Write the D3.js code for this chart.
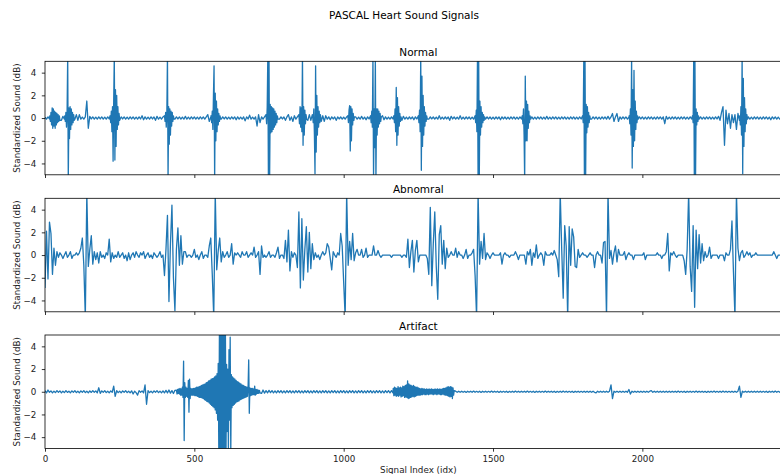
<!DOCTYPE html>
<html><head><meta charset="utf-8">
<script src="https://cdn.jsdelivr.net/npm/d3@7"></script>
<style>body{margin:0;background:#fff;} svg{display:block;} text{font-family:"DejaVu Sans",sans-serif;}</style>
</head><body><svg id="chart" width="780" height="474"></svg>
<script>
// Signal samples.
// Coarse arrays: one value every `sampleStep` indices.
// Burst arrays: [startIdx, values every `burstStep` indices] for the dense parts.
const sampleStep = 5;
const burstStep = 2;

const normalValues = [
/*0*/ 0.08,-0.1,0.1,-0.08,0,0,0,0,0,0,0,-0.2,0.15,-0.1,0,0,0,0,0,0,
/*20*/ 0,0.3,-0.2,0.3,-0.1,0.08,-0.1,0.1,1.5,-0.9,0.15,-0.08,0.1,-0.1,0.08,-0.1,0.1,-0.08,0.1,-0.1,
/*40*/ 0.08,-0.1,0.1,-0.08,0,0,0,0,0,0,0,0.1,-0.08,0.1,-0.1,0.08,-0.1,0.1,-0.08,0.1,
/*60*/ -0.1,0.08,-0.1,0.1,-0.08,0.2,-0.15,0.1,-0.1,0.08,-0.1,0.1,-0.08,0.1,-0.2,0.15,-0.1,0.08,-0.1,0.1,
/*80*/ 0,0,0,0,0,0,0,-0.1,0.1,-0.08,0.1,-0.1,0.08,-0.1,0.15,-0.1,0.08,-0.1,0.1,-0.08,
/*100*/ 0.1,-0.1,0.08,-0.1,0.1,-0.08,0.1,-0.1,0.1,0.3,-0.3,0.1,0,0,0,0,0,0,-0.1,0.1,
/*120*/ -0.08,0.1,-0.1,0.08,-0.1,0.1,-0.08,0.1,-0.15,0.1,-0.1,0.08,-0.1,0.1,-0.25,0.1,-0.08,0.25,-0.1,0.08,
/*140*/ -0.1,0.1,-0.7,0.3,-0.4,0.1,-0.1,0.1,0,0,0,0,0,0,0,0,0,-0.1,0.1,-0.08,
/*160*/ 0.1,-0.2,0.1,0.3,-0.2,0.1,-0.3,0.2,-0.1,0.1,0,0,0,0,0,0,-0.2,0.3,-0.2,0.3,
/*180*/ 0,0,0,0,0,-0.3,0.2,-0.3,0.2,-0.1,0.1,-0.15,0.1,-0.08,0.1,-0.2,0.1,-0.08,0.1,-0.1,
/*200*/ 0.08,-0.1,0.1,0,0,0,0,0,0.1,-0.1,0.08,-0.1,0.15,-0.1,0.08,-0.15,0.1,-0.08,0,0,
/*220*/ 0,0,0,0,0,0,0.2,-0.15,0.1,-0.1,0.08,-0.1,0.1,-0.08,0,0,0,0,0,-0.2,
/*240*/ 0.15,-0.1,0.08,-0.1,0.1,-0.08,0.1,-0.15,0.1,-0.08,0,0,0,0,0,0,0,-0.1,0.1,-0.08,
/*260*/ 0.1,-0.1,0.08,-0.1,0.2,-0.1,0.08,-0.1,0.1,-0.08,0.1,-0.2,0.15,-0.08,0.1,-0.1,0.08,-0.1,0.2,-0.1,
/*280*/ 0.08,-0.1,0.1,-0.08,0.1,-0.1,0.08,-0.1,0,0,0,0,0,0,0,-0.1,0.1,-0.08,0.1,-0.1,
/*300*/ 0.08,-0.1,0.1,-0.08,0.1,-0.15,0.1,-0.08,0.1,-0.1,0.08,-0.1,0.1,-0.08,0.1,-0.1,0.08,-0.1,0.1,-0.08,
/*320*/ 0,0,0,0,0,0,0.1,-0.1,0.08,-0.1,0.1,-0.08,0.1,-0.1,0.08,-0.1,0.15,-0.1,0.08,-0.1,
/*340*/ 0.1,-0.08,0.1,-0.1,0.08,-0.1,0.1,-0.08,0.1,-0.1,0.08,-0.1,0.1,-0.08,0.1,-0.1,0.08,-0.1,0.1,-0.08,
/*360*/ 0,0,0,0,0,0,-0.1,0.1,-0.08,0.1,-0.1,0.08,-0.1,0.1,-0.08,0.1,-0.1,0.15,-0.1,0.1,
/*380*/ 0.4,-0.3,0.1,0.4,-0.3,0.1,-0.1,0.1,-0.08,0.1,-0.1,0.08,0,0,0,0,0,-0.1,0.1,-0.08,
/*400*/ 0.1,-0.1,0.08,-0.1,0.1,-0.08,0.1,-0.1,0.08,-0.1,0.1,-0.08,0.1,-0.1,0.1,-0.5,0.15,-0.1,0.08,-0.1,
/*420*/ 0.1,-0.08,0.1,-0.1,0.08,-0.1,0.1,-0.08,0.1,-0.1,0.08,-0.1,0.1,-0.08,0,0,0,0,0,0.1,
/*440*/ -0.1,0.08,-0.1,0.1,-0.08,0.1,-0.1,0.08,-0.1,0.1,-0.08,0.15,-0.2,0.5,1.0,-2.4,0.7,-0.5,0.4,-0.9,
/*460*/ 0.3,-0.4,0.3,-1.0,0.4,-0.2,0,0,0,0,0,0.1,-0.1,0.08,-0.1,0.1,-0.08,0.1,-0.1,0.08,
/*480*/ -0.1,0.1,-0.08,0.1,-0.1,0.08,-0.15,0.1,-0.08,0.1,-0.1,0.08,-0.1,0.1,-0.08,0.1,-0.1,0.08,-0.1,0.1
];
const normalBursts = [
  [16, [0.2,-0.3,0.5,-0.6,0.9,-0.9,0.8,-0.7,0.6,-0.9,0.5,-0.6,0.4,-0.4,0.3,-0.3,0.2,-0.2]],
  [66, [0.2,-0.3,0.5,-0.8,0.6,5.5,-5.5,0.9,-1.8,1.0,-1.0,0.8,-0.6,0.5,-0.4,0.3,-0.2,-0.1]],
  [218, [0.2,-0.4,0.6,-1.2,1.0,-3.8,1.5,5.5,-3.7,2.5,-2.5,2.0,-1.0,1.0,-0.6,0.4,-0.2]],
  [400, [0.2,-0.3,0.5,-0.8,0.6,5.5,-5.5,1.0,-2.3,0.8,-1.5,0.6,-0.7,0.5,-0.3,0.2,-0.1]],
  [556, [0.2,-0.4,0.6,-1.0,2.0,4.6,-5.5,2.2,-2.0,1.5,-1.2,0.8,-0.6,0.4,-0.3,0.2,-0.1]],
  [740, [0.3,-0.5,1.0,5.5,-5.5,5.5,-5.5,1.2,-1.3,1.0,-1.2,0.9,-1.0,0.8,-0.8,0.6,-0.6,0.4,-0.4,0.2,-0.1]],
  [850, [0.3,-0.5,1.0,-0.8,0.9,-1.2,5.5,-2.4,1.0,-1.5,0.7,-0.5,0.3,-0.1]],
  [896, [0.2,-0.4,0.8,-1.5,-4.9,4.6,-3.0,2.0,-1.5,1.0,-0.8,0.6,-0.4,0.3,-0.1]],
  [1014, [0.2,-0.4,0.7,1.1,-2.9,1.0,-2.0,0.8,-0.6,0.4,-0.2,0.1]],
  [1090, [0.2,-0.4,0.6,-0.8,5.5,-5.5,0.8,-2.6,5.5,-5.5,0.8,-1.5,0.8,-0.8,0.6,-0.5,0.4,-0.3,0.1]],
  [1168, [0.2,-0.4,0.8,-1.2,2.7,-2.4,1.8,-1.5,1.0,-0.7,0.4,-0.3,0.1]],
  [1250, [0.2,-0.4,0.7,-1.2,5.5,-4.6,3.7,-2.5,2.0,-1.5,1.0,-0.7,0.5,-0.3,0.2,-0.1]],
  [1440, [0.2,-0.4,0.7,-1.2,5.5,-5.5,5.5,-5.5,1.5,-1.5,1.0,-0.8,0.5,-0.4,0.3,-0.2,0.1]],
  [1598, [0.2,-0.5,0.8,-1.5,-5.5,3.7,-2.0,1.5,-2.0,1.2,-0.9,0.6,-0.4,0.2,-0.1]],
  [1800, [0.2,-0.4,5.5,-5.5,5.5,-5.5,1.2,-1.3,1.0,-0.8,0.5,-0.4,0.2,-0.1]],
  [1956, [0.2,-0.5,0.8,-1.5,5.5,-4.4,2.5,-2.5,4.2,-2.0,1.5,-1.0,0.6,-0.4,0.2,-0.1]],
  [2168, [0.2,-0.4,5.5,-5.5,5.5,-5.5,0.8,-0.6,0.5,-0.3,0.2,-0.1]],
  [2326, [0.2,-0.6,1.0,-1.5,5.5,-4.9,3.5,-2.5,1.8,-1.2,0.8,-0.5,0.3,-0.1]]
];

const abnormalValues = [
/*0*/ -2.9,2.1,-2.1,2.9,1.9,-1.7,0.6,-0.9,0.3,-0.2,0.2,0,-0.3,0,0.3,-0.2,0,0.3,-0.3,0,
/*20*/ 0,0.2,0,0.2,0.6,1.5,-0.9,-5.5,5.5,-1.0,0.5,1.7,-0.8,0.3,-0.4,0.2,-0.7,0.3,-0.2,0,
/*40*/ -0.3,0.2,0,1.4,-0.6,0.2,-0.3,0,-0.2,0.3,-0.2,0,0.2,-0.3,0,-0.5,0.2,-0.4,0,0.2,
/*60*/ -0.2,0.3,0,-0.2,0.2,0,0.3,-0.3,0,0.2,-0.2,0,-0.3,0.2,0,-0.2,0,0.3,-0.2,0,
/*80*/ -1.8,0.5,3.5,-4.1,1.0,4.4,-2.0,-4.9,0.5,2.4,-0.9,1.7,-0.8,0.3,0.3,-0.2,0,0,-0.2,0,
/*100*/ 0.5,-0.2,0,-0.4,0,0.3,-0.3,0,0,-0.2,0.8,1.5,-1.7,-5.5,5.5,-1.3,0.4,1.5,-0.6,0.3,
/*120*/ -0.2,0,0.3,-0.2,0,1.0,-0.8,0.2,0,0.2,0,-0.2,0.3,0,0,0.3,-0.2,0,0.2,0,
/*140*/ 0.7,-0.2,0,0.3,-1.7,0.8,-0.2,0,-0.2,0,0.3,-0.2,0,0,-0.2,0.2,0.7,-0.3,0,0,
/*160*/ -0.3,1.3,-0.6,2.2,-1.4,0.3,-0.2,0.2,0,-1.1,3.8,-2.9,3.2,-2.2,0.5,2.5,-1.5,2.0,-1.2,1.0,
/*180*/ -0.4,0.2,-0.2,0,-0.4,0,0.3,0,0.2,1.0,0.7,-0.3,-1.3,0.3,0,-0.2,0.2,0,1.9,0.8,
/*200*/ -2.4,-5.5,5.5,-0.9,1.2,-0.4,1.9,-0.5,0.2,0.5,0,0,0.5,-0.2,0,0.6,-0.2,0,0,0,
/*220*/ 0.8,0,0,0.4,0,-0.2,0,0,0,0,0,0,-0.2,0,0,0,0,0,0,-0.2,
/*240*/ 0,0,-0.2,1.4,-1.1,0.3,1.3,-1.5,0.4,1.3,-0.6,0,0,0,0,0,-0.3,-1.7,4.2,-2.7,
/*260*/ 1.0,3.8,-1.0,-3.9,1.8,2.6,-0.8,1.3,-1.2,0.6,-0.2,0,0.3,0,0,0.6,-0.2,0.3,0,0,
/*280*/ -0.3,0,0.5,-0.3,0,0,0.2,0.5,-1.8,-5.5,5.5,-0.8,1.2,-0.3,1.9,-0.4,0.2,0,-0.3,0,
/*300*/ 0.2,0,0,0,0,0.2,-0.8,0,0.2,0,0,-0.2,0,0,0,0.3,0,-0.4,0,0,
/*320*/ 0,0,-0.8,0.3,0,0.5,-0.9,0.2,-0.2,0.9,-0.3,0,0.2,0,-0.9,0.3,0,0,0,0.2,
/*340*/ 0,0.4,0,-0.4,-1.9,5.5,0.5,-3.8,2.6,0.8,-5.5,2.5,-0.9,2.3,1.6,-1.0,-1.1,0.5,-0.2,0,
/*360*/ 0.2,0,0,-0.2,0,0.2,0,0,-1.1,0,0.3,0,0,-0.7,1.1,1.2,-5.5,5.5,-0.3,0.4,
/*380*/ -0.8,0.2,0.8,-0.6,0.5,0,0,0,0.3,-0.4,0,0.2,0,0,-0.4,0,0,0,0,0,
/*400*/ 0,0.2,-0.4,0,0,0,0,0,0,0,0.2,0,0,-0.3,0,0,0.3,1.9,-1.4,0.2,
/*420*/ 0,0.3,0,-0.2,0,0,0,0,-0.5,-1.7,0.5,5.5,-1.0,-3.2,2.6,-4.6,2.2,-1.2,1.8,-0.7,
/*440*/ 1.0,-0.5,0.3,-0.2,0,0.7,-0.3,0,0,0,0,-0.3,0,0,0,-0.5,0.2,0,0,0.5,
/*460*/ 3.0,-1.5,-5.5,5.5,0.6,-0.5,0.2,0.4,-0.2,0,0.3,0,0.2,-0.2,0,0,0.2,0,0,0,
/*480*/ 0,0,0,0,0,0,0,0,0.3,0,-0.3,0,0,0,0,0,0,0,0,0
];
const abnormalBursts = [];

const artifactValues = [
/*0*/ 0.1,-0.1,0.15,-0.05,0.08,-0.1,0.05,-0.08,0.1,-0.05,0.08,-0.1,0.05,-0.08,0.1,-0.06,0.05,-0.1,0.08,-0.05,
/*20*/ 0.1,-0.08,0.05,-0.1,0.08,-0.05,0.1,-0.08,0.05,-0.1,0.08,-0.06,0.1,-0.05,0.08,-0.1,0.35,-0.15,0.08,-0.05,
/*40*/ 0.1,-0.08,0.05,-0.1,0.08,-0.05,0.5,-0.4,0.1,-0.08,0.05,-0.1,0.08,-0.05,0.1,-0.08,0.05,-0.1,0.08,-0.2,
/*60*/ 0.05,-0.08,-0.3,0.1,-0.05,0.08,-0.1,0.6,-1.1,0.1,-0.08,0.05,-0.1,0.08,-0.05,0.1,-0.08,0.05,-0.1,0.08,
/*80*/ -0.1,0.12,-0.1,0.15,-0.12,0.1,-0.15,0.12,0,0,0,0,0,0,0,0,0,0,0,0,
/*100*/ 0,0,0,0,0,0,0,0,0,0,0,0,0,0,0,0,0,0,0,0,
/*120*/ 0,0,0,0,0,0,0,0,0,0,0,0,0,0,0,0,0,0,0,0,
/*140*/ 0,0,0,0,0,-0.15,0.15,-0.12,0.1,-0.1,0.12,-0.08,0.1,-0.1,0.08,-0.1,0.1,-0.08,0.1,-0.1,
/*160*/ 0.08,-0.1,0.1,-0.08,0.1,-0.1,0.08,-0.1,0.1,-0.08,0.1,-0.1,0.08,-0.1,0.1,-0.08,0.1,-0.1,0.08,-0.1,
/*180*/ 0.1,-0.08,0.1,-0.1,0.08,-0.1,0.1,-0.08,0.1,-0.1,0.08,-0.1,0.1,-0.08,0.1,-0.1,0.08,-0.1,0.1,-0.08,
/*200*/ 0.1,-0.1,0.08,-0.1,0.1,-0.08,0.1,-0.1,0.08,-0.1,0.1,-0.08,0.1,-0.1,0.08,-0.1,0.1,-0.08,0.1,-0.1,
/*220*/ 0.08,-0.1,0.1,-0.08,0.1,-0.1,0.08,-0.1,0.1,-0.08,0.1,-0.1,0.1,-0.1,0,0,0,0,0,0,
/*240*/ 0,0,0,0,0,0,0,0,0,0,0,0,0,0,0,0,0,0,0,0,
/*260*/ 0,0,0,0,0,0,0,0,0,0,0,0,0,0,0,0.05,-0.05,0.05,-0.05,0.05,
/*280*/ -0.05,0.04,-0.06,0.05,-0.04,0.05,-0.05,0.06,-0.05,0.04,-0.05,0.05,-0.06,0.05,-0.04,0.05,-0.05,0.04,-0.05,0.06,
/*300*/ -0.05,0.05,-0.04,0.05,-0.06,0.05,-0.05,0.04,-0.05,0.05,-0.06,0.04,-0.05,0.05,-0.05,0.06,-0.04,0.05,-0.05,0.05,
/*320*/ -0.04,0.05,-0.05,0.06,-0.05,0.04,-0.05,0.05,-0.06,0.05,-0.04,0.05,-0.05,0.04,-0.05,0.06,-0.05,0.05,-0.04,0.05,
/*340*/ -0.05,0.05,-0.06,0.04,-0.05,0.05,-0.05,0.06,-0.04,0.05,-0.05,0.04,-0.05,0.05,-0.06,0.05,-0.04,0.05,-0.05,0.04,
/*360*/ -0.05,0.05,-0.05,0.05,-0.05,0.05,-0.05,0.05,-0.05,-0.1,0.05,-0.05,0.05,-0.05,0.05,-0.05,0.05,-0.05,0.05,0.6,
/*380*/ -0.6,0.05,-0.05,0.05,-0.05,0.05,-0.05,0.05,-0.05,0.05,-0.05,0.2,-0.2,0.05,-0.05,0.05,-0.05,0.05,-0.05,0.05,
/*400*/ -0.05,0.05,-0.05,0.05,-0.05,0.05,0.1,-0.05,0.05,-0.05,0.05,-0.05,0.05,-0.05,0.05,-0.05,0.05,-0.05,0.05,-0.05,
/*420*/ 0.05,-0.04,0.05,-0.05,0.06,-0.05,0.04,-0.05,0.05,-0.06,0.05,-0.04,0.05,-0.05,0.04,-0.05,0.06,-0.05,0.05,-0.04,
/*440*/ 0.05,-0.05,0.04,-0.06,0.05,-0.05,0.05,-0.04,0.06,-0.05,0.04,-0.05,0.05,-0.05,0.06,-0.04,0.05,-0.05,0.04,-0.05,
/*460*/ 0.05,-0.05,0.05,-0.05,0.05,0.5,-0.5,0.05,-0.05,0.05,-0.05,0.05,-0.05,0.05,-0.05,0.05,-0.05,0.05,-0.05,0.05,
/*480*/ -0.05,0.04,-0.05,0.05,-0.06,0.05,-0.04,0.05,-0.05,0.06,-0.05,0.04,-0.05,0.05,-0.05,0.04,-0.06,0.05,-0.05,0.05
];
const artifactBursts = [
  [440, [
    0.15,-0.2,0.2,-0.15,0.25,-0.2,0.3,-0.3,0.25,-0.3,
    0.4,-0.5,2.7,-4.3,0.8,-0.5,0.4,-0.4,0.3,-0.5,
    1.0,-1.8,1.1,-0.6,0.3,-0.3,0.25,-0.3,0.3,-0.3,
    0.3,-0.35,0.35,-0.35,0.4,-0.4,0.4,-0.45,0.45,-0.5,
    0.5,-0.5,0.55,-0.55,0.6,-0.6,0.65,-0.7,0.7,-0.75,
    0.8,-0.85,0.85,-0.9,0.95,-1.0,1.0,-1.1,1.1,-1.2,
    1.15,-1.3,1.2,-1.4,1.3,-1.6,1.4,-1.9,1.6,-2.5,
    2.5,-5.5,5.5,-5.5,5.5,-5.5,5.5,-5.5,5.5,-5.5,
    5.5,-5.5,5.5,-5.5,2.4,-3.5,2.0,-5.5,3.7,-2.5,
    4.8,-5.5,1.5,-1.4,1.3,-1.2,1.2,-1.1,1.1,-1.0,
    1.0,-0.9,0.9,-0.85,0.85,-0.8,0.75,-0.7,0.7,-0.65,
    0.6,-0.6,0.55,-0.55,0.5,-0.5,0.45,-0.45,0.4,-0.4,
    0.4,2.8,-1.9,0.35,-0.35,0.3,-0.3,0.3,-0.25,0.25,
    -0.25,0.5,-0.3,0.2,-0.2,0.2,-0.15,0.15,-0.15,0.12,
    -0.1]],
  [1166, [
    0.3,-0.35,0.4,-0.3,0.35,-0.4,0.3,-0.35,0.45,-0.4,
    0.35,-0.3,0.4,-0.45,0.35,-0.4,0.5,-0.35,0.45,-0.5,
    0.55,-0.45,0.6,-0.5,0.95,-0.6,0.7,-0.55,0.6,-0.5,
    0.55,-0.45,0.5,-0.4,0.55,-0.45,0.45,-0.4,0.4,-0.35,
    0.4,-0.3,0.35,-0.3,0.3,-0.3,0.25,-0.25,0.3,-0.25,
    0.25,-0.2,0.25,-0.25,0.2,-0.25,0.25,-0.2,0.2,-0.25,
    0.25,-0.2,0.2,-0.2,0.25,-0.2,0.2,-0.25,0.2,-0.2,
    0.25,-0.2,0.2,-0.25,0.25,-0.2,0.2,-0.2,0.25,-0.25,
    0.2,-0.25,0.25,-0.2,0.3,-0.25,0.3,-0.3,0.35,-0.3,
    0.4,-0.35,0.45,-0.4,0.4,-0.45,0.45,-0.4,0.4,-0.6,
    0.35,-0.3,0.1]]
];

const panels = [
  { title: "Normal", values: normalValues, bursts: normalBursts },
  { title: "Abnomral", values: abnormalValues, bursts: abnormalBursts },
  { title: "Artifact", values: artifactValues, bursts: artifactBursts }
];
const figureTitle = "PASCAL Heart Sound Signals";
const yAxisLabel = "Standardized Sound (dB)";
const xAxisLabel = "Signal Index (idx)";
const xTickValues = [0, 500, 1000, 1500, 2000];
const yTickValues = [-4, -2, 0, 2, 4];
const xDomain = [0, 2500];
const yDomain = [-5, 5];

// layout
const plotLeft = 45, plotRight = 791.7;
const panelTops = [61.3, 198.3, 335];
const panelHeight = 113.5;
const lineColor = "#1f77b4";

function buildPoints(values, bursts) {
  const ranges = bursts.map(([s, v]) => [s, s + (v.length - 1) * burstStep]);
  const pts = [];
  values.forEach((v, i) => {
    const idx = i * sampleStep;
    if (!ranges.some(([a, b]) => idx >= a && idx <= b)) pts.push([idx, v]);
  });
  bursts.forEach(([s, vals]) => vals.forEach((v, k) => pts.push([s + k * burstStep, v])));
  pts.sort((a, b) => a[0] - b[0]);
  return pts;
}

const svg = d3.select("#chart");
svg.append("rect").attr("width", 780).attr("height", 474).attr("fill", "#fff");

const x = d3.scaleLinear().domain(xDomain).range([plotLeft, plotRight]);

svg.append("text").attr("x", 404).attr("y", 19).attr("text-anchor", "middle")
  .attr("font-size", "10.5px").attr("fill", "#000").text(figureTitle);

panels.forEach((panel, p) => {
  const top = panelTops[p], bottom = top + panelHeight;
  const y = d3.scaleLinear().domain(yDomain).range([bottom, top]);
  const g = svg.append("g");

  g.append("clipPath").attr("id", "clip" + p).append("rect")
    .attr("x", plotLeft).attr("y", top).attr("width", plotRight - plotLeft).attr("height", panelHeight);

  const line = d3.line().x(d => x(d[0])).y(d => y(d[1]));
  g.append("path").datum(buildPoints(panel.values, panel.bursts)).attr("clip-path", `url(#clip${p})`)
    .attr("d", line).attr("fill", "none").attr("stroke", lineColor)
    .attr("stroke-width", 1.3).attr("stroke-linejoin", "round").attr("stroke-linecap", "butt");

  const ya = g.append("g").attr("transform", `translate(${plotLeft},0)`)
    .call(d3.axisLeft(y).tickValues(yTickValues).tickSize(3.2).tickPadding(5.5).tickSizeOuter(0));
  const xa = g.append("g").attr("transform", `translate(0,${bottom})`)
    .call(d3.axisBottom(x).tickValues(xTickValues).tickSize(3.2).tickPadding(4).tickSizeOuter(0)
      .tickFormat(p === 2 ? d3.format("d") : () => ""));
  [ya, xa].forEach(a => {
    a.select(".domain").remove();
    a.selectAll("line").attr("stroke", "#000").attr("stroke-width", 0.8);
    a.selectAll("text").attr("font-size", "8.75px").attr("fill", "#222")
      .attr("font-family", "DejaVu Sans, sans-serif");
  });

  g.append("rect").attr("x", plotLeft).attr("y", top)
    .attr("width", plotRight - plotLeft).attr("height", panelHeight)
    .attr("fill", "none").attr("stroke", "#000").attr("stroke-width", 0.8);

  g.append("text").attr("x", (plotLeft + plotRight) / 2).attr("y", top - 5.3)
    .attr("text-anchor", "middle").attr("font-size", "10.5px").attr("fill", "#000").text(panel.title);

  g.append("text").attr("transform", `translate(20,${(top + bottom) / 2}) rotate(-90)`)
    .attr("text-anchor", "middle").attr("font-size", "8.75px").attr("fill", "#222").text(yAxisLabel);
});

svg.append("text").attr("x", (plotLeft + plotRight) / 2).attr("y", 472.5)
  .attr("text-anchor", "middle").attr("font-size", "8.75px").attr("fill", "#222").text(xAxisLabel);
</script>
</body></html>
